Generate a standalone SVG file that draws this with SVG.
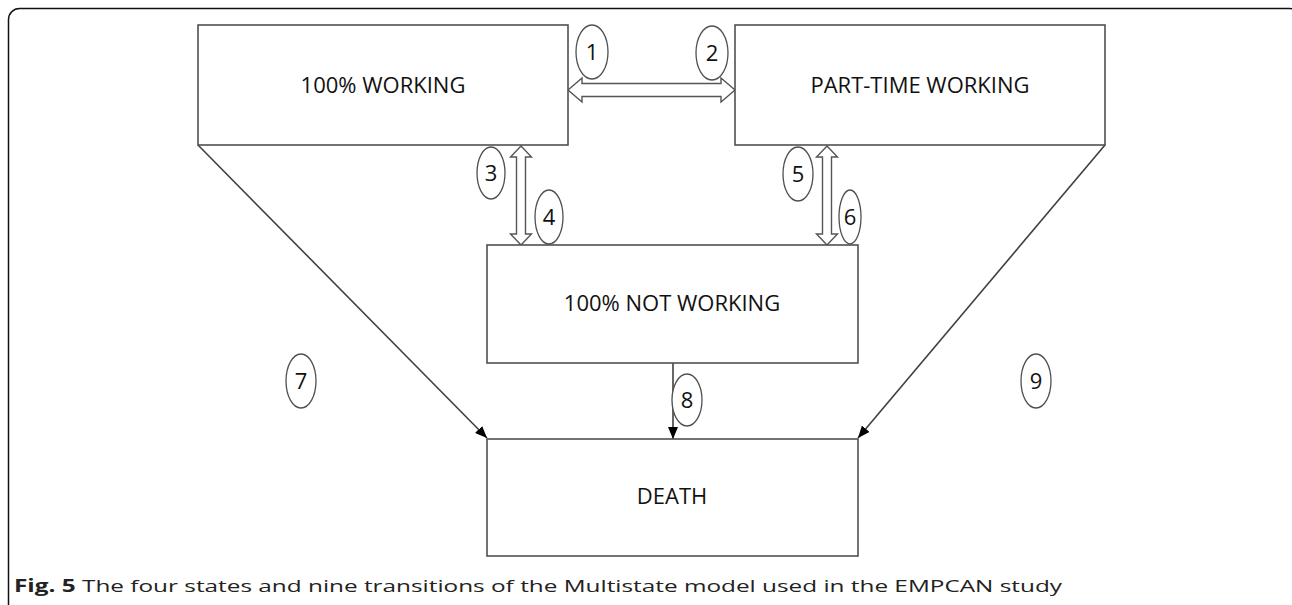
<svg xmlns="http://www.w3.org/2000/svg" width="1292" height="605" viewBox="0 0 1292 605">
  <style>
    .box { fill: #ffffff; stroke: #505050; stroke-width: 1.6; }
    .lbl { font-family: "Open Sans", "Noto Sans", sans-serif; font-size: 22px; fill: #111111; text-anchor: middle; }
    .num { font-family: "Open Sans", "Noto Sans", sans-serif; font-size: 22px; fill: #111111; text-anchor: middle; }
    .ell { fill: #ffffff; stroke: #505050; stroke-width: 1.3; }
    .blk { fill: #ffffff; stroke: #555555; stroke-width: 1.4; stroke-linejoin: miter; }
    .ln { fill: none; stroke: #404040; stroke-width: 1.6; }
    .cap { font-family: "Open Sans", "Noto Sans", sans-serif; font-size: 17px; fill: #222222; }
  </style>
  <defs>
    <marker id="ah" markerUnits="userSpaceOnUse" markerWidth="12" markerHeight="10" refX="12" refY="5" orient="auto">
      <path d="M0,0 L12,5 L0,10 z" fill="#000000"/>
    </marker>
  </defs>
  <rect x="0" y="0" width="1292" height="605" fill="#ffffff"/>
  <rect x="8.5" y="8.5" width="1292" height="608" rx="11" ry="11" fill="none" stroke="#111111" stroke-width="1.5"/>

  <g id="connectors">
    <polygon class="blk" points="568,90 582,78 582,83.5 721,83.5 721,78 735,90 721,102 721,96.5 582,96.5 582,102"/>
    <polygon class="blk" points="521,146 531.5,157 525.5,157 525.5,234 531.5,234 521,245 510.5,234 516.5,234 516.5,157 510.5,157"/>
    <polygon class="blk" points="827,146 837.5,157 831.5,157 831.5,234 837.5,234 827,245 816.5,234 822.5,234 822.5,157 816.5,157"/>
    <line class="ln" x1="198" y1="145" x2="487" y2="438" marker-end="url(#ah)"/>
    <line class="ln" x1="673" y1="362" x2="673" y2="439" marker-end="url(#ah)"/>
    <line class="ln" x1="1105" y1="145" x2="858" y2="438" marker-end="url(#ah)"/>
    <g id="t1"><ellipse class="ell" cx="592" cy="52" rx="16" ry="27"/><text class="num" x="592" y="60">1</text></g>
    <g id="t2"><ellipse class="ell" cx="712" cy="53" rx="16" ry="27"/><text class="num" x="712" y="61">2</text></g>
    <g id="t3"><ellipse class="ell" cx="491" cy="173" rx="14" ry="26"/><text class="num" x="491" y="181">3</text></g>
    <g id="t4"><ellipse class="ell" cx="549" cy="217" rx="14" ry="27"/><text class="num" x="549" y="225">4</text></g>
    <g id="t5"><ellipse class="ell" cx="798" cy="174" rx="15" ry="27"/><text class="num" x="798" y="182">5</text></g>
    <g id="t6"><ellipse class="ell" cx="850" cy="217" rx="11" ry="27"/><text class="num" x="850" y="225">6</text></g>
    <g id="t7"><ellipse class="ell" cx="301" cy="381" rx="15" ry="27"/><text class="num" x="301" y="389">7</text></g>
    <g id="t8"><ellipse class="ell" cx="687" cy="400" rx="15" ry="26"/><text class="num" x="687" y="408">8</text></g>
    <g id="t9"><ellipse class="ell" cx="1036" cy="381" rx="15" ry="27"/><text class="num" x="1036" y="389">9</text></g>
  </g>

  <g id="n-working">
    <rect class="box" x="198" y="25" width="370" height="120"/>
    <text class="lbl" x="383" y="93">100% WORKING</text>
  </g>
  <g id="n-parttime">
    <rect class="box" x="735" y="25" width="370" height="120"/>
    <text class="lbl" x="920" y="93">PART-TIME WORKING</text>
  </g>
  <g id="n-notworking">
    <rect class="box" x="487" y="245" width="371" height="118"/>
    <text class="lbl" x="672" y="311">100% NOT WORKING</text>
  </g>
  <g id="n-death">
    <rect class="box" x="487" y="439" width="371" height="117"/>
    <text class="lbl" x="672" y="504">DEATH</text>
  </g>

  <text class="cap" x="14" y="592" textLength="1048" lengthAdjust="spacingAndGlyphs"><tspan font-weight="bold">Fig. 5</tspan> The four states and nine transitions of the Multistate model used in the EMPCAN study</text>
</svg>
